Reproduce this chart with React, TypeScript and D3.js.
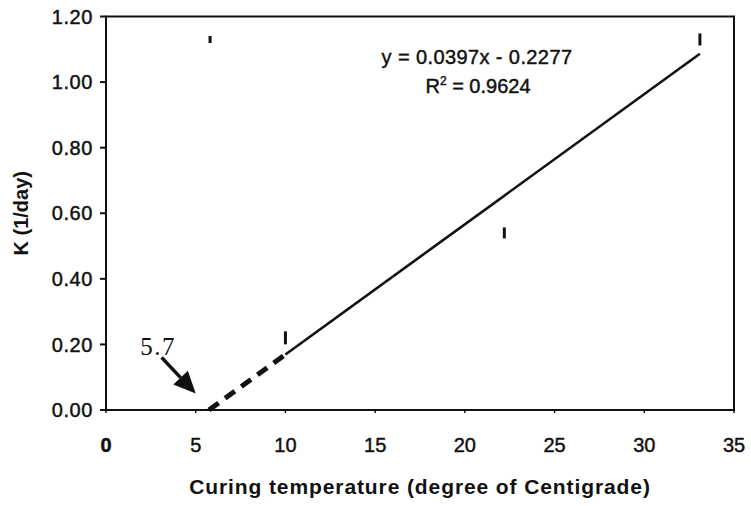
import React from "react";
import * as d3 from "d3";

// Rate constant K versus curing temperature, with linear fit
const temperature = [5.8, 10, 22.2, 33.1];
const rateK = [1.13, 0.22, 0.54, 1.13];

const fitSlope = 0.0397;
const fitIntercept = -0.2277;
const fitR2 = 0.9624;
const fitSolidRange = [10, 33.1];
const fitDashedRange = [0.2277 / 0.0397, 10];

const xTickValues = [0, 5, 10, 15, 20, 25, 30, 35];
const yTickValues = [0, 0.2, 0.4, 0.6, 0.8, 1.0, 1.2];

const thresholdLabel = "5.7";
const arrowFrom = [3.1, 0.16];
const arrowTo = [5.0, 0.05];
const labelAt = [2.9, 0.168];

const W = 751;
const H = 506;
const margin = { left: 106, right: 17, top: 16.5, bottom: 96 };
const SANS = "'Liberation Sans', Arial, sans-serif";
const SERIF = "'Liberation Serif', 'Times New Roman', serif";
const INK = "#111";

export default function App() {
  const x = d3.scaleLinear().domain([0, 35]).range([margin.left, W - margin.right]);
  const y = d3.scaleLinear().domain([0, 1.2]).range([H - margin.bottom, margin.top]);

  const fit = (t: number) => fitSlope * t + fitIntercept;
  const line = d3
    .line<number>()
    .x((t) => x(t))
    .y((t) => y(Math.max(0, fit(t))));

  const x0 = x(0);
  const x1 = x(35);
  const y0 = y(0);
  const y1 = y(1.2);

  // arrow geometry
  const ax0 = x(arrowFrom[0]);
  const ay0 = y(arrowFrom[1]);
  const ax1 = x(arrowTo[0]);
  const ay1 = y(arrowTo[1]);
  const ang = Math.atan2(ay1 - ay0, ax1 - ax0);
  const headLen = 22;
  const headHalf = 10;
  const bx = ax1 - headLen * Math.cos(ang);
  const by = ay1 - headLen * Math.sin(ang);
  const px = -Math.sin(ang);
  const py = Math.cos(ang);
  const head = `M${ax1},${ay1}L${bx + px * headHalf},${by + py * headHalf}L${bx - px * headHalf},${by - py * headHalf}Z`;

  const markLen = [7, 13, 11, 12];
  const textInk = { fill: INK, stroke: INK, strokeWidth: 0.45 };

  return (
    <svg
      width={W}
      height={H}
      style={{ position: "absolute", left: 0, top: 0, background: "#fff" }}
    >
      {/* frame */}
      <rect x={x0} y={y1} width={x1 - x0} height={y0 - y1} fill="none" stroke={INK} strokeWidth={2} />

      {/* y axis ticks and labels */}
      {yTickValues.map((v) => (
        <g key={"y" + v}>
          <line x1={x0 - 6} x2={x0} y1={y(v)} y2={y(v)} stroke={INK} strokeWidth={2} />
          <text
            x={x0 - 13}
            y={y(v)}
            dy="0.36em"
            textAnchor="end"
            fontFamily={SANS}
            fontSize={20}
            letterSpacing={0.6}
            {...textInk}
          >
            {d3.format(".2f")(v)}
          </text>
        </g>
      ))}

      {/* x axis ticks and labels */}
      {xTickValues.map((v) => (
        <g key={"x" + v}>
          <line x1={x(v)} x2={x(v)} y1={y0} y2={y0 + 3} stroke={INK} strokeWidth={1.5} />
          <text
            x={x(v)}
            y={y0 + 42}
            textAnchor="middle"
            fontFamily={SANS}
            fontSize={20}
            fontWeight={v === 0 ? "bold" : "normal"}
            {...textInk}
          >
            {v}
          </text>
        </g>
      ))}

      {/* axis titles */}
      <text
        transform={`translate(28,${(y0 + y1) / 2}) rotate(-90)`}
        textAnchor="middle"
        fontFamily={SANS}
        fontSize={20}
        fontWeight="bold"
        fill={INK}
      >
        K (1/day)
      </text>
      <text
        x={(x0 + x1) / 2}
        y={H - 12}
        textAnchor="middle"
        fontFamily={SANS}
        fontSize={21}
        fontWeight="bold"
        letterSpacing={0.9}
        fill={INK}
      >
        Curing temperature (degree of Centigrade)
      </text>

      {/* fitted line: extrapolated part dashed */}
      <path
        d={line(fitDashedRange) ?? ""}
        fill="none"
        stroke={INK}
        strokeWidth={5}
        strokeDasharray="12 8"
      />
      <path d={line(fitSolidRange) ?? ""} fill="none" stroke={INK} strokeWidth={2.6} />

      {/* observed values */}
      {temperature.map((t, i) => (
        <line
          key={"p" + i}
          x1={x(t)}
          x2={x(t)}
          y1={y(rateK[i]) - markLen[i] / 2}
          y2={y(rateK[i]) + markLen[i] / 2}
          stroke={INK}
          strokeWidth={3}
        />
      ))}

      {/* equation */}
      <text
        x={477}
        y={64}
        textAnchor="middle"
        fontFamily={SANS}
        fontSize={20}
        letterSpacing={0.4}
        {...textInk}
      >
        {`y = ${fitSlope}x - ${Math.abs(fitIntercept)}`}
      </text>
      <text x={478} y={93} textAnchor="middle" fontFamily={SANS} fontSize={20} {...textInk}>
        R
        <tspan fontSize={12} dy={-8}>
          2
        </tspan>
        <tspan dy={8}>{` = ${fitR2}`}</tspan>
      </text>

      {/* threshold annotation */}
      <text
        x={x(labelAt[0])}
        y={y(labelAt[1])}
        textAnchor="middle"
        fontFamily={SERIF}
        fontSize={25}
        letterSpacing={1.5}
        fill={INK}
      >
        {thresholdLabel}
      </text>
      <line x1={ax0} y1={ay0} x2={bx} y2={by} stroke={INK} strokeWidth={3.5} />
      <path d={head} fill={INK} />
    </svg>
  );
}
